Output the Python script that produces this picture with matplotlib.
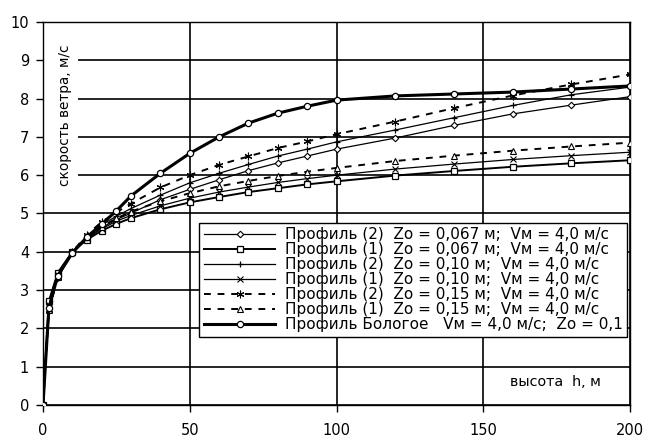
import matplotlib
matplotlib.use("Agg")
import matplotlib.pyplot as plt
from matplotlib.patches import Rectangle

plt.rcParams['font.family'] = ['DejaVu Sans']

# heights, m
h = [0, 2, 5, 10, 15, 20, 25, 30, 40, 50, 60, 70, 80, 90, 100, 120, 140, 160, 180, 200]

# Profile (1): log law, Vm = 4.0 m/s at 10 m
p1_z067 = [0, 2.71, 3.45, 4.00, 4.32, 4.55, 4.73, 4.88, 5.11, 5.29, 5.43, 5.56, 5.66, 5.76, 5.84, 5.99, 6.11, 6.22, 6.31, 6.39]
p1_z10 = [0, 2.60, 3.40, 4.00, 4.35, 4.60, 4.80, 4.95, 5.20, 5.40, 5.56, 5.69, 5.81, 5.91, 6.00, 6.16, 6.29, 6.41, 6.51, 6.60]
p1_z15 = [0, 2.47, 3.34, 4.00, 4.39, 4.66, 4.87, 5.05, 5.32, 5.53, 5.71, 5.85, 5.98, 6.09, 6.19, 6.37, 6.51, 6.64, 6.75, 6.85]

# Profile (2)
p2_z067 = [0, 2.71, 3.45, 4.00, 4.37, 4.63, 4.84, 5.01, 5.36, 5.63, 5.88, 6.12, 6.32, 6.50, 6.68, 6.97, 7.30, 7.60, 7.83, 8.05]
p2_z10 = [0, 2.60, 3.40, 4.00, 4.40, 4.70, 4.93, 5.13, 5.48, 5.80, 6.05, 6.28, 6.50, 6.68, 6.87, 7.18, 7.50, 7.82, 8.10, 8.30]
p2_z15 = [0, 2.47, 3.34, 4.00, 4.45, 4.78, 5.03, 5.26, 5.68, 6.00, 6.27, 6.49, 6.71, 6.88, 7.07, 7.40, 7.75, 8.08, 8.37, 8.63]

# Bologoe profile
bologoe = [0, 2.53, 3.37, 3.97, 4.39, 4.72, 5.07, 5.46, 6.05, 6.57, 7.00, 7.36, 7.62, 7.80, 7.96, 8.07, 8.12, 8.17, 8.25, 8.33]

labels = [
    "Профиль (2)  Zo = 0,067 м;  Vм = 4,0 м/с",
    "Профиль (1)  Zo = 0,067 м;  Vм = 4,0 м/с",
    "Профиль (2)  Zo = 0,10 м;  Vм = 4,0 м/с",
    "Профиль (1)  Zo = 0,10 м;  Vм = 4,0 м/с",
    "Профиль (2)  Zo = 0,15 м;  Vм = 4,0 м/с",
    "Профиль (1)  Zo = 0,15 м;  Vм = 4,0 м/с",
    "Профиль Бологое   Vм = 4,0 м/с;  Zo = 0,1",
]

fig = plt.figure(figsize=(6.46, 4.37), dpi=100)
ax = fig.add_axes([43 / 646, 1 - 405 / 437, 587 / 646, 383 / 437])

dash = (0, (3.5, 3.5))
ax.plot(h, p2_z067, color='black', lw=0.9, marker='D', ms=3.3, mfc='white', mec='black', mew=0.8, label=labels[0], zorder=3)
ax.plot(h, p1_z067, color='black', lw=1.4, marker='s', ms=3.8, mfc='white', mec='black', mew=0.9, label=labels[1], zorder=3)
ax.plot(h, p2_z10, color='black', lw=0.9, marker='+', ms=5, mew=0.9, label=labels[2], zorder=3)
ax.plot(h, p1_z10, color='black', lw=0.9, marker='x', ms=4, mew=0.8, label=labels[3], zorder=3)
ax.plot(h, p2_z15, color='black', lw=1.4, ls=dash, marker=(6, 2, 0), ms=5.5, mew=0.8, label=labels[4], zorder=3)
ax.plot(h, p1_z15, color='black', lw=1.4, ls=dash, marker='^', ms=4.3, mfc='white', mec='black', mew=0.8, label=labels[5], zorder=3)
ax.plot(h, bologoe, color='black', lw=2.2, marker='o', ms=4.5, mfc='white', mec='black', mew=0.9, label=labels[6], zorder=4)

ax.set_xlim(0, 200)
ax.set_ylim(0, 10)
ax.set_xticks([0, 50, 100, 150, 200])
ax.set_yticks(range(0, 11))
ax.grid(True, color='black', lw=1.2)
ax.set_axisbelow(True)
for s in ax.spines.values():
    s.set_linewidth(1.0)
ax.tick_params(axis='both', direction='out', length=5, width=1.0, labelsize=10.5, colors='black')
ax.tick_params(axis='x', pad=8)
ax.tick_params(axis='y', pad=5)

# white panel behind the vertical axis caption
ax.add_patch(Rectangle((0.002, 0.55), 0.058, 0.41, transform=ax.transAxes,
                       facecolor='white', edgecolor='none', zorder=1.5))
ax.text(0.037, 0.94, "скорость ветра, м/с", transform=ax.transAxes, rotation=90,
        ha='center', va='top', fontsize=9.8, zorder=2)
ax.text(0.951, 0.06, "высота  h, м", transform=ax.transAxes, ha='right', va='center',
        fontsize=10.3, zorder=2)

leg = ax.legend(loc='lower right', bbox_to_anchor=(0.995, 0.178), borderaxespad=0,
                fontsize=11, handlelength=4.7, labelspacing=0.0, handletextpad=0.6,
                borderpad=0.3, fancybox=False, framealpha=1, edgecolor='black')
leg.get_frame().set_linewidth(1.0)
leg.set_zorder(5)

fig.savefig("out.png", dpi=100)
